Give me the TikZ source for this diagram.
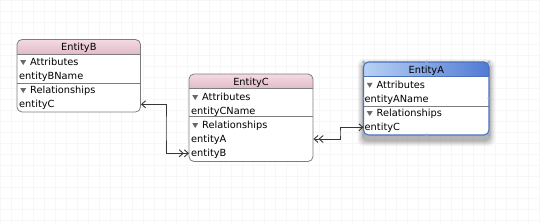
\documentclass[tikz,border=0pt]{standalone}
\usepackage{fontspec}
\setmainfont{DejaVu Sans}
\usetikzlibrary{arrows.meta}
\definecolor{pinkA}{RGB}{243,218,227}
\definecolor{pinkB}{RGB}{226,186,201}
\definecolor{blueA}{RGB}{184,210,244}
\definecolor{blueB}{RGB}{80,122,212}
\definecolor{edgec}{RGB}{125,125,125}
\definecolor{aedge}{RGB}{75,112,190}
\definecolor{tric}{RGB}{105,105,105}
\definecolor{linec}{RGB}{55,55,55}
\definecolor{handlec}{RGB}{150,168,195}
\tikzset{
  txt/.style={font=\fontsize{9.8}{11}\selectfont, inner sep=0pt, text height=7.2pt, text depth=0pt, anchor=west, text=black},
  ttl/.style={txt, anchor=center},
  body/.style={fill=white, inner sep=0pt, anchor=north west},
  frame/.style={draw=edgec, line width=0.8pt, rounded corners=5pt},
  aframe/.style={draw=aedge, line width=1.1pt, rounded corners=5pt},
  divl/.style={draw=edgec, line width=0.6pt},
  tri/.style={fill=tric},
  rel/.style={draw=linec, line width=0.9pt},
  handle/.style={circle, fill=handlec, inner sep=0pt, minimum size=3.4pt, opacity=0.7},
  gridl/.style={draw=black!3, line width=0.4pt}
}
\newcommand\onebarb{Straight Barb[length=4pt,width=7pt]}
\begin{document}
\begin{tikzpicture}[x=1pt,y=-1pt]
\useasboundingbox (0,0) rectangle (540,223);
\fill[white] (0,0) rectangle (540,223);
\draw[gridl] (0,0) grid[step=11pt] (540,223);

% ---------------- EntityB ----------------
\node[body, minimum width=123.5pt, minimum height=72.5pt, rounded corners=5pt] (B) at (17,39.5) {};
\shade[top color=pinkA, bottom color=pinkB] (17,54) {[rounded corners=5pt] -- (17,39.5) -- (140.5,39.5)} -- (140.5,54) -- cycle;
\draw[divl] (17,54) -- (140.5,54);
\draw[divl] (17,83) -- (140.5,83);
\draw[frame] (17,39.5) rectangle (140.5,112);
\node[ttl] (Bt) at (78.8,47) {EntityB};
\fill[tri] (20.3,60.2) -- (26.1,60.2) -- (23.2,65) -- cycle;
\node[txt] (Br1) at (30,62.3) {Attributes};
\node[txt] (Br2) at (19,75.7) {entityBName};
\fill[tri] (20.3,88.2) -- (26.1,88.2) -- (23.2,93) -- cycle;
\node[txt] (Br3) at (30,90.3) {Relationships};
\node[txt] (Br4) at (19,104.3) {entityC};

% ---------------- EntityC ----------------
\node[body, minimum width=124pt, minimum height=87.5pt, rounded corners=5pt] (C) at (189,74) {};
\shade[top color=pinkA, bottom color=pinkB] (189,88.5) {[rounded corners=5pt] -- (189,74) -- (313,74)} -- (313,88.5) -- cycle;
\draw[divl] (189,88.5) -- (313,88.5);
\draw[divl] (189,116.5) -- (313,116.5);
\draw[frame] (189,74) rectangle (313,161.5);
\node[ttl] (Ct) at (251,81.5) {EntityC};
\fill[tri] (192.3,95.2) -- (198.1,95.2) -- (195.2,100) -- cycle;
\node[txt] (Cr1) at (202,97.3) {Attributes};
\node[txt] (Cr2) at (191,110.7) {entityCName};
\fill[tri] (192.3,123.2) -- (198.1,123.2) -- (195.2,128) -- cycle;
\node[txt] (Cr3) at (202,125.3) {Relationships};
\node[txt] (Cr4) at (191,139) {entityA};
\node[txt] (Cr5) at (191,153.3) {entityB};

% ---------------- EntityA (selected) ----------------
\foreach \k/\o in {6/0.05,4.5/0.07,3/0.09,1.5/0.11}
  \fill[black, opacity=\o, rounded corners=6pt] (363.5-\k,62+3-\k) rectangle (489+\k,135+5+\k);
\node[body, minimum width=125.5pt, minimum height=73pt, rounded corners=5pt] (A) at (363.5,62) {};
\shade[left color=blueA, right color=blueB] (363.5,76) {[rounded corners=5pt] -- (363.5,62) -- (489,62)} -- (489,76) -- cycle;
\draw[draw=aedge, line width=0.6pt] (363.5,76) -- (489,76);
\draw[divl] (363.5,106.5) -- (489,106.5);
\draw[aframe] (363.5,62) rectangle (489,135);
\node[ttl] (At) at (426.3,69.5) {EntityA};
\fill[tri] (366.8,82.9) -- (372.6,82.9) -- (369.7,87.7) -- cycle;
\node[txt] (Ar1) at (376.5,85) {Attributes};
\node[txt] (Ar2) at (364.5,99.3) {entityAName};
\fill[tri] (366.8,111.2) -- (372.6,111.2) -- (369.7,116) -- cycle;
\node[txt] (Ar3) at (376.5,113.3) {Relationships};
\node[txt] (Ar4) at (364.5,127.3) {entityC};
\foreach \hx/\hy [count=\i] in {363.5/62,426.3/62,489/62,489/98.5,489/135,426.3/135,363.5/135,363.5/98.5}
  \node[handle] (h\i) at (\hx,\hy) {};

% ---------------- relationships ----------------
\coordinate (k1) at (166,128);
\coordinate (k2) at (340,133);
\draw[rel, {\onebarb}-{\onebarb\space\onebarb}] (B.east |- Br4.west) -| (k1) |- (C.west |- Cr5.west);
\draw[rel, {\onebarb\space\onebarb}-{\onebarb}] (C.east |- Cr4.west) -| (k2) |- (A.west |- Ar4.west);
\end{tikzpicture}
\end{document}
